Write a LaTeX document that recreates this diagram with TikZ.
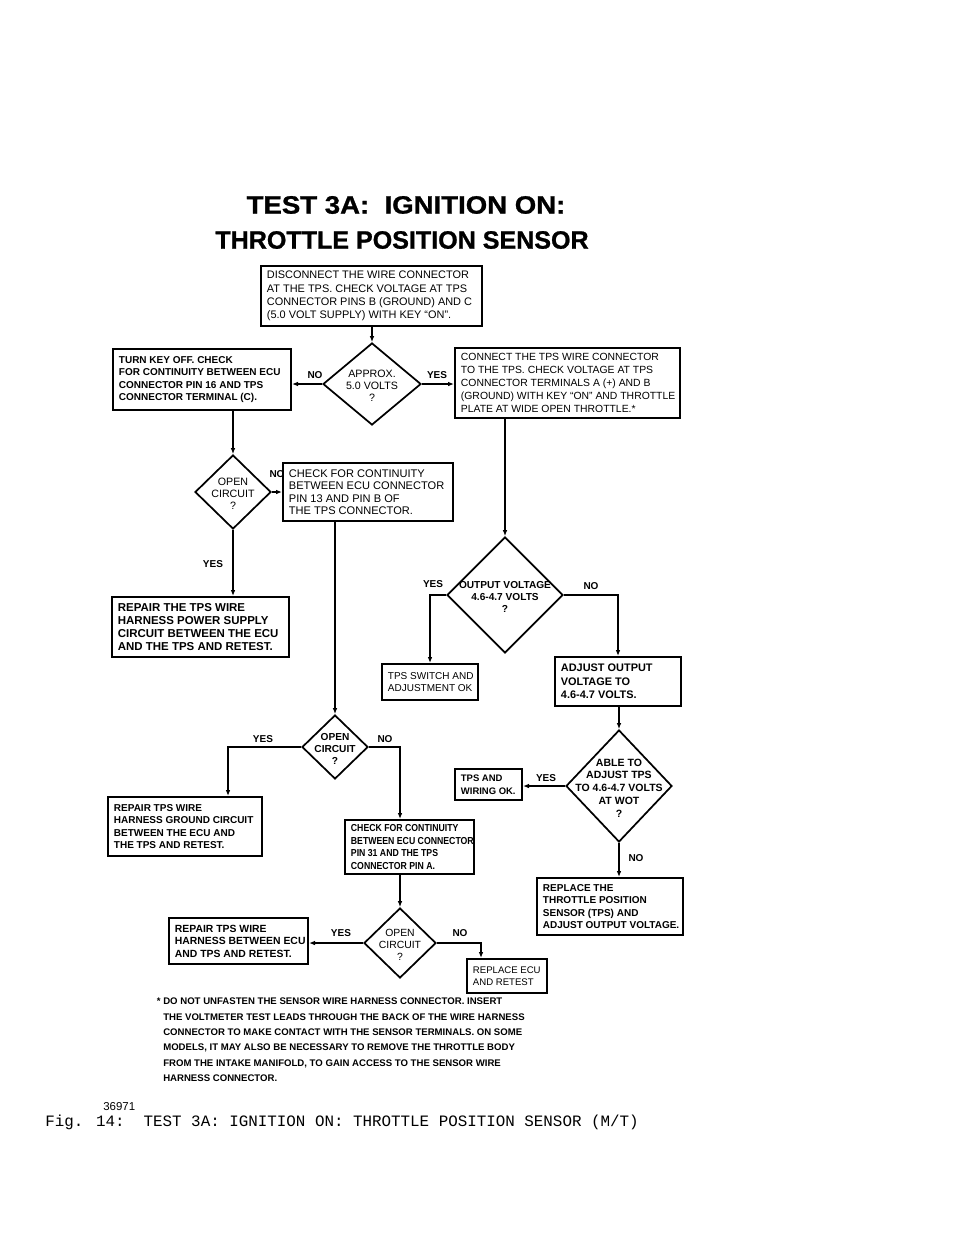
\documentclass[tikz,border=0pt]{standalone}
\usepackage{graphicx}
\usepackage{fontspec}
\setmainfont{Liberation Sans}
\newfontfamily\monofont{Liberation Mono}
\newfontfamily\titlefont[FakeBold=1.0]{Liberation Sans Bold}
\newfontfamily\condbold[FakeStretch=0.86]{Liberation Sans Bold}
\usetikzlibrary{shapes.geometric,arrows.meta}
\newcommand{\btfont}{\fontsize{7.5}{9.4}\selectfont}
\newcommand{\flowbox}[7][\bfseries]{%
  \pgfmathsetmacro\bw{(#4-#2)*0.75}%
  \pgfmathsetmacro\bh{(#5-#3)*0.75}%
  \node[boxn,minimum width=\bw pt,minimum height=\bh pt,
        label={[btext,font=\btfont#1]west:#7}] (#6) at ({(#2+#4)/2},{(#3+#5)/2}) {};}
\newcommand{\flowdia}[7][\bfseries]{%
  \pgfmathsetmacro\dw{2*#4*0.75}%
  \pgfmathsetmacro\dh{2*#5*0.75}%
  \node[dia,minimum width=\dw pt,minimum height=\dh pt,
        label={[dtext,font=\dtfont#1]center:#7}] (#6) at (#2,#3) {};}
\newcommand{\dtfont}{\fontsize{7.6}{8.8}\selectfont}
\begin{document}
\begin{tikzpicture}[x=0.75pt,y=-0.75pt,
 boxn/.style={draw,line width=1.5pt,rectangle,inner sep=0pt},
 btext/.style={anchor=west,xshift=5pt,align=left,inner sep=0pt},
 dia/.style={draw,diamond,line width=1.3pt,inner sep=0pt},
 dtext/.style={align=center,inner sep=0pt,yshift=-1.5pt},
 lab/.style={font=\fontsize{7.5}{9}\selectfont\bfseries,inner sep=0pt},
 arr/.style={line width=1pt,-{Latex[length=4.5pt,width=3.5pt]}},
 titlef/.style={font=\titlefont\fontsize{18.8}{22}\selectfont,inner sep=0pt}]
\useasboundingbox (0,0) rectangle (960,1242);
\fill[white] (0,0) rectangle (960,1242);

% title
\node[titlef] (t1) at (406,205) {\scalebox{1.1}[1]{TEST 3A:\ \ IGNITION ON:}};
\node[titlef] (t2) at (402,240) {THROTTLE POSITION SENSOR};

% boxes
\flowbox[\mdseries\fontsize{8.2}{9.9}\selectfont]{261}{266}{482}{326}{b0}{DISCONNECT THE WIRE CONNECTOR\\AT THE TPS. CHECK VOLTAGE AT TPS\\CONNECTOR PINS B (GROUND) AND C\\(5.0 VOLT SUPPLY) WITH KEY ``ON''.}
\flowbox{113}{349}{291}{410}{bL}{TURN KEY OFF. CHECK\\FOR CONTINUITY BETWEEN ECU\\CONNECTOR PIN 16 AND TPS\\CONNECTOR TERMINAL (C).}
\flowbox[\mdseries\fontsize{7.8}{9.9}\selectfont]{455}{348}{680}{418}{bR}{CONNECT THE TPS WIRE CONNECTOR\\TO THE TPS. CHECK VOLTAGE AT TPS\\CONNECTOR TERMINALS A (+) AND B\\(GROUND) WITH KEY ``ON'' AND THROTTLE\\PLATE AT WIDE OPEN THROTTLE.*}
\flowbox[\mdseries\fontsize{8.3}{9.4}\selectfont]{283}{463}{453}{521}{b13}{CHECK FOR CONTINUITY\\BETWEEN ECU CONNECTOR\\PIN 13 AND PIN B OF\\THE TPS CONNECTOR.}
\flowbox[\bfseries\fontsize{8.6}{9.8}\selectfont]{112}{597}{289}{657}{r1}{REPAIR THE TPS WIRE\\HARNESS POWER SUPPLY\\CIRCUIT BETWEEN THE ECU\\AND THE TPS AND RETEST.}
\flowbox[\mdseries]{382}{664}{478}{700}{ok}{TPS SWITCH AND\\ADJUSTMENT OK}
\flowbox[\bfseries\fontsize{8.2}{10.1}\selectfont]{555}{657}{681}{706}{adj}{ADJUST OUTPUT\\VOLTAGE TO\\4.6-4.7 VOLTS.}
\flowbox{108}{797}{262}{856}{r2}{REPAIR TPS WIRE\\HARNESS GROUND CIRCUIT\\BETWEEN THE ECU AND\\THE TPS AND RETEST.}
\flowbox[\condbold\fontsize{7.6}{9.4}\selectfont]{345}{820}{474}{874}{b31}{CHECK FOR CONTINUITY\\BETWEEN ECU CONNECTOR\\PIN 31 AND THE TPS\\CONNECTOR PIN A.}
\flowbox[\bfseries\fontsize{7.1}{9.4}\selectfont]{455}{769}{522}{800}{wok}{TPS AND\\WIRING OK.}
\flowbox{537}{878}{683}{935}{rt}{REPLACE THE\\THROTTLE POSITION\\SENSOR (TPS) AND\\ADJUST OUTPUT VOLTAGE.}
\flowbox[\bfseries\fontsize{7.8}{9.4}\selectfont]{169}{918}{308}{964}{r3}{REPAIR TPS WIRE\\HARNESS BETWEEN ECU\\AND TPS AND RETEST.}
\flowbox[\mdseries\fontsize{7.2}{9.4}\selectfont]{467}{959}{547}{993}{ecu}{REPLACE ECU\\AND RETEST}

% diamonds
\flowdia[\mdseries\fontsize{8}{9}\selectfont]{372}{384}{49}{41}{d1}{APPROX.\\5.0 VOLTS\\?}
\flowdia[\mdseries\fontsize{8}{8.8}\selectfont]{233}{492}{38}{37}{d2}{OPEN\\CIRCUIT\\?}
\flowdia{505}{595}{58}{58}{d4}{OUTPUT VOLTAGE\\4.6-4.7 VOLTS\\?}
\flowdia{335}{747}{33}{32}{d3}{OPEN\\CIRCUIT\\?}
\flowdia[\bfseries\fontsize{7.9}{9.6}\selectfont]{619}{786}{53}{56}{d5}{ABLE TO\\ADJUST TPS\\TO 4.6-4.7 VOLTS\\AT WOT\\?}
\flowdia[\mdseries\fontsize{7.8}{8.8}\selectfont]{400}{943}{36}{35}{d6}{OPEN\\CIRCUIT\\?}

% helper coordinates for bends
\coordinate (k3) at (228,0);
\coordinate (k6) at (481,0);

% connectors
\draw[arr] (d1.north |- b0.south) -- (d1.north);
\draw[arr] (d1.west) -- (d1.west -| bL.east);
\draw[arr] (d1.east) -- (d1.east -| bR.west);
\draw[arr] (d2.north |- bL.south) -- (d2.north);
\draw[arr] (d2.east) -- (d2.east -| b13.west);
\draw[arr] (d2.south) -- (d2.south |- r1.north);
\draw[arr] (d3.north |- b13.south) -- (d3.north);
\draw[arr] (d4.north |- bR.south) -- (d4.north);
\draw[arr] (d4.west) -| (ok.north);
\draw[arr] (d4.east) -| (adj.north);
\draw[arr] (d5.north |- adj.south) -- (d5.north);
\draw[arr] (d5.west) -- (d5.west -| wok.east);
\draw[arr] (d5.south) -- (d5.south |- rt.north);
\draw[arr] (d3.west) -| (k3 |- r2.north);
\draw[arr] (d3.east) -| (d6.north |- b31.north);
\draw[arr] (d6.north |- b31.south) -- (d6.north);
\draw[arr] (d6.west) -- (d6.west -| r3.east);
\draw[arr] (d6.east) -| (k6 |- ecu.north);

% branch labels
\node[lab] (l1) at (315,375) {NO};
\node[lab] (l2) at (437,375) {YES};
\node[lab] (l3) at (277,474) {NO};
\node[lab] (l4) at (213,564) {YES};
\node[lab] (l5) at (433,584) {YES};
\node[lab] (l6) at (591,586) {NO};
\node[lab] (l7) at (263,739) {YES};
\node[lab] (l8) at (385,739) {NO};
\node[lab] (l9) at (546,778) {YES};
\node[lab] (l10) at (636,858) {NO};
\node[lab] (l11) at (341,933) {YES};
\node[lab] (l12) at (460,933) {NO};

% footnote
\node[anchor=north west,align=left,inner sep=0pt,font=\fontsize{7.2}{11.5}\selectfont\bfseries] (fn) at (163,998)
 {\llap{*\ }DO NOT UNFASTEN THE SENSOR WIRE HARNESS CONNECTOR. INSERT\\
  THE VOLTMETER TEST LEADS THROUGH THE BACK OF THE WIRE HARNESS\\
  CONNECTOR TO MAKE CONTACT WITH THE SENSOR TERMINALS. ON SOME\\
  MODELS, IT MAY ALSO BE NECESSARY TO REMOVE THE THROTTLE BODY\\
  FROM THE INTAKE MANIFOLD, TO GAIN ACCESS TO THE SENSOR WIRE\\
  HARNESS CONNECTOR.};

\node[anchor=west,inner sep=0pt,font=\fontsize{8.6}{11}\selectfont] (num) at (103,1107) {36971};
\node[anchor=west,inner sep=0pt,font=\monofont\fontsize{11.9}{14}\selectfont] (fig) at (45,1122) {Fig. 14:\ \ TEST 3A: IGNITION ON: THROTTLE POSITION SENSOR (M/T)};
\end{tikzpicture}
\end{document}
